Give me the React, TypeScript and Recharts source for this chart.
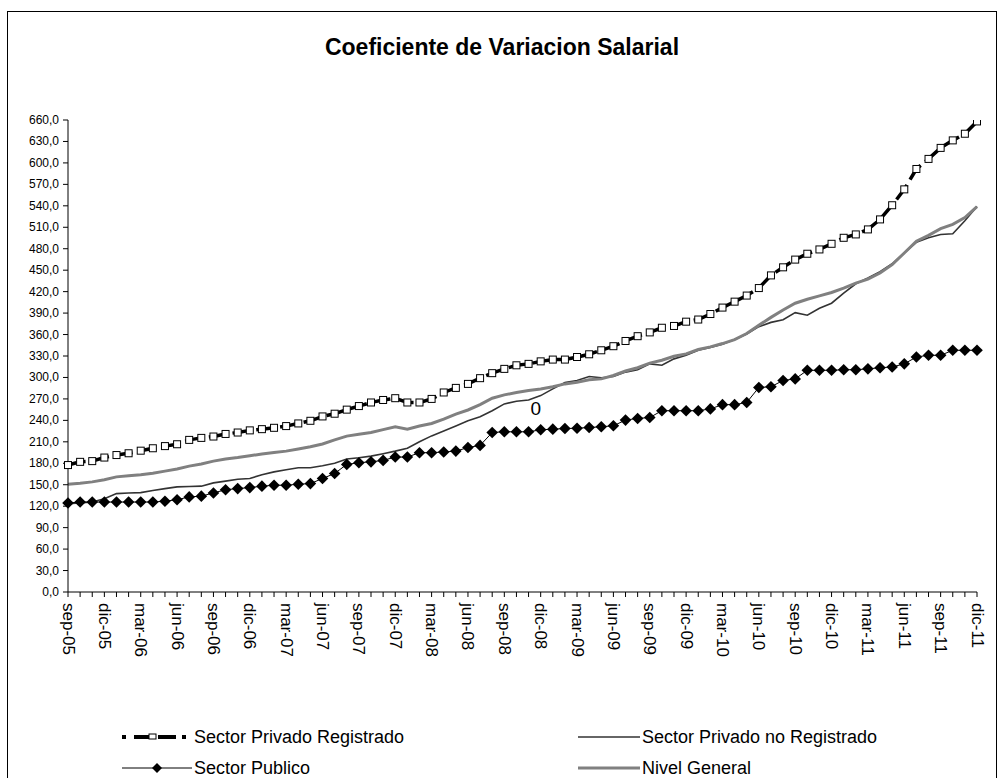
import React from 'react';
import { LineChart, Line, XAxis, YAxis, LabelList } from 'recharts';

const mesesAbr = ['ene', 'feb', 'mar', 'abr', 'may', 'jun', 'jul', 'ago', 'sep', 'oct', 'nov', 'dic'];
const meses: string[] = [];
for (let y = 2005; y <= 2011; y++) {
  for (let m = 0; m < 12; m++) {
    if (y === 2005 && m < 8) continue;
    meses.push(`${mesesAbr[m]}-${String(y).slice(2)}`);
  }
}

const privadoRegistrado = [
  177.5, 182, 183, 188, 191.5, 194, 197.6, 201, 204, 206.6, 212.7, 215.5, 217.4, 221, 223, 226,
  227.7, 229.6, 232, 235.7, 239.4, 245.5, 249.3, 255, 260, 265, 268.5, 271, 265, 265, 270, 279,
  285.4, 291, 299, 306, 312, 317, 319, 322.5, 325, 325, 328.6, 332.4, 338, 343.7, 351, 357.7,
  363, 369.5, 372, 378, 381, 388.7, 397.7, 406, 414.5, 425, 442.7, 454, 464.8, 473, 479, 486.9,
  495.3, 500, 507, 521, 540.8, 563, 591.5, 605.6, 621, 631.5, 640.8, 658,
];

const privadoNoRegistrado = [
  123.5, 124.5, 125.8, 130.5, 137.6, 138.5, 139, 142, 144.6, 147, 147.5, 148, 152.6, 155, 157.7, 158.7,
  164, 168, 171, 173.7, 173.7, 176.5, 180, 186, 187.8, 190, 193.4, 197, 201, 210, 218.3, 225,
  232, 239.4, 245, 253.5, 263, 266.7, 268.5, 274.6, 284, 293, 295.8, 301.4, 299.5, 301.4, 307.5, 310.8,
  319, 317, 326, 331, 338, 341.8, 346.5, 353, 360.6, 371, 377, 380.8, 390.6, 387, 396.7, 403.8,
  418, 431, 439, 448, 459, 474, 489, 495.3, 500, 501, 519, 539,
];

const sectorPublico = [
  124.4, 125.8, 125.8, 125.8, 125.8, 125.8, 125.8, 125.8, 127, 129, 133, 134, 138.5, 143, 144.6, 146,
  148, 149.3, 149.3, 150.7, 151.6, 158.7, 165.7, 178.4, 180.8, 182, 184, 188.7, 188.7, 194.8, 194.8, 195.8,
  197, 202, 205, 223, 224, 224, 224, 226.8, 227.7, 228.6, 229, 230, 231, 232.4, 240.4, 242.7,
  244, 253.5, 253.5, 253.5, 253.5, 256, 262, 262, 265, 286, 287, 295.8, 298, 310, 310, 310,
  310.8, 310.8, 312, 313.6, 314.6, 319, 328.6, 331, 331, 338, 338, 338,
];

const nivelGeneral = [
  150.7, 152, 154, 157, 161, 162.5, 164, 166, 169, 172, 176, 179, 183, 186, 188, 190.5,
  193, 195, 197, 200, 203, 207, 212.7, 218, 220.7, 223, 227, 231, 227.7, 232, 235.7, 241.8,
  248.8, 254.5, 262, 271, 275.6, 279, 281.7, 284, 287, 291, 293.4, 296.7, 298, 302.8, 309, 313.6,
  320, 324, 329.6, 333, 339, 342.7, 347.4, 353, 361.5, 373, 384, 394.4, 403.8, 409.4, 414, 418.8,
  425, 432, 437.6, 446, 457.7, 474, 490.6, 498.6, 508, 514, 523.5, 539,
];

const yTicks = Array.from({ length: 23 }, (_, i) => i * 30);
const etiquetaCero = 'dic-08';

const data = meses.map((mes, i) => ({
  mes,
  registrado: privadoRegistrado[i],
  noRegistrado: privadoNoRegistrado[i],
  publico: sectorPublico[i],
  general: nivelGeneral[i],
}));

const SANS = '"Liberation Sans", Arial, sans-serif';

const XTick = (props: any) => {
  const { x, y, payload, index } = props;
  if (index % 3 !== 0) return <g />;
  return (
    <text
      transform={`translate(${x},${y + 4}) rotate(90)`}
      textAnchor="start"
      dominantBaseline="central"
      fontFamily={SANS}
      fontSize={17}
      fill="#000"
    >
      {payload.value}
    </text>
  );
};

const YTick = (props: any) => {
  const { x, y, payload } = props;
  return (
    <text x={x - 2} y={y} textAnchor="end" dominantBaseline="central" fontFamily={SANS} fontSize={12} fill="#000">
      {Number(payload.value).toFixed(1).replace('.', ',')}
    </text>
  );
};

const Square = (props: any) => {
  const { cx, cy } = props;
  if (cx == null || cy == null) return <g />;
  return <rect x={cx - 3.5} y={cy - 3.5} width={7} height={7} fill="#fff" stroke="#000" strokeWidth={1} />;
};

const Diamond = (props: any) => {
  const { cx, cy } = props;
  if (cx == null || cy == null) return <g />;
  const r = 5.8;
  return <path d={`M${cx},${cy - r}L${cx + r},${cy}L${cx},${cy + r}L${cx - r},${cy}Z`} fill="#000" />;
};

const ZeroLabel = (props: any) => {
  const { x, y, index } = props;
  if (meses[index] !== etiquetaCero) return null;
  return (
    <text x={x - 5} y={y + 13} textAnchor="middle" dominantBaseline="central" fontFamily={SANS} fontSize={19} fill="#000">
      0
    </text>
  );
};

const legendText: React.CSSProperties = {
  position: 'absolute',
  fontFamily: SANS,
  fontSize: 18,
  color: '#000',
  lineHeight: '20px',
  whiteSpace: 'nowrap',
};

export default function App() {
  return (
    <div style={{ position: 'absolute', left: 0, top: 0, width: 1004, height: 778, background: '#fff', overflow: 'hidden' }}>
      <div style={{ position: 'absolute', left: 7, top: 11, width: 988, height: 800, border: '1px solid #000' }} />
      <div
        style={{
          position: 'absolute',
          left: 0,
          width: 1004,
          top: 33,
          textAlign: 'center',
          fontFamily: SANS,
          fontWeight: 'bold',
          fontSize: 23,
          lineHeight: '28px',
          color: '#000',
        }}
      >
        Coeficiente de Variacion Salarial
      </div>
      <div style={{ position: 'absolute', left: 0, top: 0 }}>
        <LineChart width={1004} height={778} data={data} margin={{ top: 120, right: 27, left: 8, bottom: 116 }}>
          <XAxis
            dataKey="mes"
            interval={0}
            tick={<XTick />}
            tickLine={{ stroke: '#000' }}
            axisLine={{ stroke: '#000' }}
            tickSize={5}
            height={70}
            padding={{ left: 0, right: 0 }}
          />
          <YAxis
            domain={[0, 660]}
            ticks={yTicks}
            interval={0}
            tick={<YTick />}
            tickLine={{ stroke: '#000' }}
            axisLine={{ stroke: '#000' }}
            tickSize={5}
            width={60}
            allowDataOverflow
          />
          <Line
            type="linear"
            dataKey="registrado"
            stroke="#000"
            strokeWidth={3.5}
            strokeDasharray="18 6"
            dot={<Square />}
            activeDot={false}
            isAnimationActive={false}
          />
          <Line
            type="linear"
            dataKey="noRegistrado"
            stroke="#333"
            strokeWidth={1.6}
            dot={false}
            activeDot={false}
            isAnimationActive={false}
          >
            <LabelList dataKey="noRegistrado" content={<ZeroLabel />} />
          </Line>
          <Line
            type="linear"
            dataKey="publico"
            stroke="#000"
            strokeWidth={1}
            dot={<Diamond />}
            activeDot={false}
            isAnimationActive={false}
          />
          <Line
            type="linear"
            dataKey="general"
            stroke="#808080"
            strokeWidth={3}
            dot={false}
            activeDot={false}
            isAnimationActive={false}
          />
        </LineChart>
      </div>
      <svg style={{ position: 'absolute', left: 0, top: 0 }} width={1004} height={778}>
        <line x1={122} y1={737} x2={192} y2={737} stroke="#000" strokeWidth={4} strokeDasharray="4 8 18 6 18 6" />
        <rect x={149} y={734} width={7} height={5} fill="#fff" stroke="#000" strokeWidth={1} />
        <line x1={122} y1={768} x2={192} y2={768} stroke="#000" strokeWidth={1} />
        <path d="M157,763L162,768L157,773L152,768Z" fill="#000" />
        <line x1={578} y1={737} x2={640} y2={737} stroke="#333" strokeWidth={1.6} />
        <line x1={578} y1={768} x2={640} y2={768} stroke="#808080" strokeWidth={3} />
      </svg>
      <div style={{ ...legendText, left: 194, top: 727 }}>Sector Privado Registrado</div>
      <div style={{ ...legendText, left: 194, top: 758 }}>Sector Publico</div>
      <div style={{ ...legendText, left: 642, top: 727 }}>Sector Privado no Registrado</div>
      <div style={{ ...legendText, left: 642, top: 758 }}>Nivel General</div>
    </div>
  );
}
